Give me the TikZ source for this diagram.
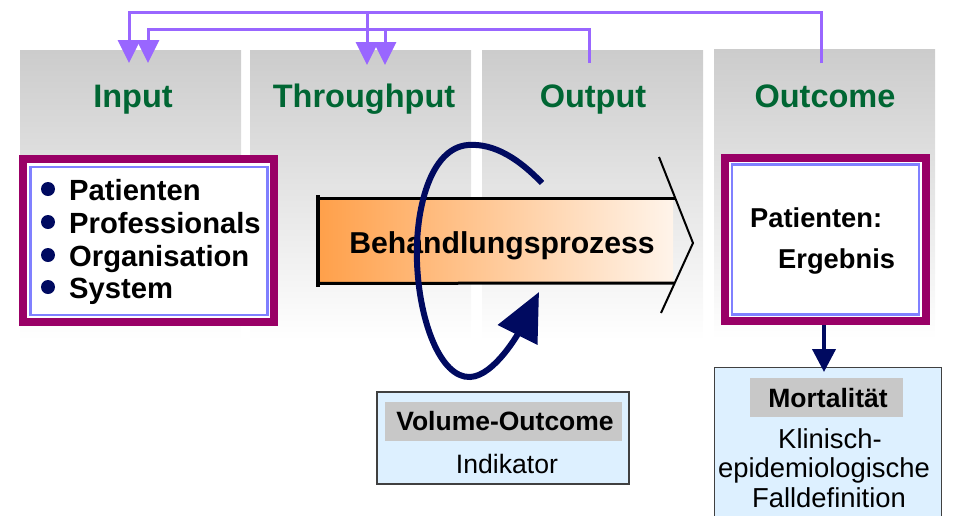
\documentclass[tikz,border=0pt]{standalone}
\usepackage{fontspec}
\setmainfont{Liberation Sans}
\usetikzlibrary{arrows.meta}
\definecolor{hdgreen}{HTML}{006633}
\definecolor{fbpurple}{HTML}{9966FF}
\definecolor{framemag}{HTML}{990066}
\definecolor{innerblue}{HTML}{8080FF}
\definecolor{loopnavy}{HTML}{000A60}
\definecolor{paleblue}{HTML}{DDF0FF}
\definecolor{lblgray}{HTML}{C8C8C8}
\definecolor{procorange}{HTML}{FFA04A}
\definecolor{procpale}{HTML}{FFF4EA}
\begin{document}
\begin{tikzpicture}[x=1pt,y=-1pt,
  panel/.style={rectangle, inner sep=0pt, anchor=north west, minimum width=221pt,
    minimum height=290pt, top color=black!20, bottom color=white, draw=none},
  header/.style={anchor=base, text=hdgreen, inner sep=0pt,
    font=\fontsize{32.5}{36}\selectfont\bfseries},
  fb/.style={draw=fbpurple, line width=3pt, -{Triangle[length=23pt,width=22pt]}},
  outerframe/.style={rectangle, inner sep=0pt, draw=framemag, line width=8pt, fill=white},
  innerframe/.style={rectangle, inner sep=0pt, draw=innerblue, line width=2.5pt},
  bullet/.style={circle, fill=loopnavy, inner sep=0pt, minimum size=14pt},
  item/.style={anchor=base west, inner sep=0pt, font=\fontsize{29.2}{32}\selectfont\bfseries},
  infobox/.style={rectangle, inner sep=0pt, fill=paleblue, draw=black!75, line width=1.2pt},
  lblbox/.style={rectangle, inner sep=0pt, fill=lblgray},
  boldtxt/.style={anchor=base, inner sep=0pt, font=\fontsize{26.5}{30}\selectfont\bfseries},
  plaintxt/.style={anchor=base, inner sep=0pt, font=\fontsize{27.4}{30}\selectfont},
  octxt/.style={anchor=base west, inner sep=0pt, font=\fontsize{27.3}{30}\selectfont\bfseries},
]
\path[use as bounding box] (0,0) rectangle (953,515);
\clip (0,0) rectangle (953,515);

% column panels
\node[panel] (pin)  at (20,50)  {};
\node[panel] (pthr) at (250,50) {};
\node[panel] (pout) at (482,50) {};
\node[panel] (poc)  at (714,49) {};

% column headings
\node[header] (hin)  at (133,107) {Input};
\node[header] (hthr) at (364,107) {Throughput};
\node[header] (hout) at (593,107) {Output};
\node[header] (hoc)  at (825,107) {Outcome};

% feedback connectors
\coordinate (fbOc)  at (821,63);
\coordinate (fbOut) at (589,63);
\coordinate (fbIn1) at (129,63);
\coordinate (fbIn2) at (148,63);
\coordinate (fbTh1) at (367,65);
\coordinate (fbTh2) at (385,65);
\coordinate (top1)  at (129,12);
\coordinate (top2)  at (148,29);
\coordinate (jn1)   at (367,12);
\coordinate (jn2)   at (385,29);
\draw[fb] (fbOc) |- (top1) -- (fbIn1);
\draw[fb] (jn1) -- (fbTh1);
\draw[fb] (fbOut) |- (top2) -- (fbIn2);
\draw[fb] (jn2) -- (fbTh2);

% input box
\node[outerframe, minimum width=251pt, minimum height=163pt] (inbox) at (148.5,240.5) {};
\node[innerframe, minimum width=237pt, minimum height=148pt] (ininner) at (149,241) {};
\node[bullet] (b1) at (48,189) {};
\node[bullet] (b2) at (48,222) {};
\node[bullet] (b3) at (48,255) {};
\node[bullet] (b4) at (48,287) {};
\node[item] (t1) at (69,200) {Patienten};
\node[item] (t2) at (69,233) {Professionals};
\node[item] (t3) at (69,266) {Organisation};
\node[item] (t4) at (69,298) {System};

% treatment process arrow
\node[rectangle, inner sep=0pt, anchor=north west, minimum width=355pt, minimum height=85pt,
  left color=procorange, right color=procpale, draw=none] (proc) at (318,198) {};
\coordinate (cv1) at (659,157);
\coordinate (cv2) at (693,243);
\coordinate (cv3) at (661,313);
\coordinate (pt) at (675,198);
\coordinate (pb) at (674,283);
\draw[line width=3pt] (proc.north west) -- (pt);
\draw[line width=3pt] (proc.south west) -- (pb);
\draw[line width=3.5pt] ([yshift=3pt]proc.north west) -- ([yshift=-4pt]proc.south west);
\draw[line width=2pt] (cv1) -- (cv2) -- (cv3);
\node[anchor=base, inner sep=0pt, font=\fontsize{30.2}{34}\selectfont\bfseries] (ptxt) at (502,253) {Behandlungsprozess};

% volume-outcome loop
\coordinate (lp0) at (542,183);
\coordinate (lp1) at (468,145);
\coordinate (lp2) at (417,262);
\coordinate (lp3) at (470,377);
\coordinate (lp4) at (539,292);
\draw[loopnavy, line width=6pt, -{Triangle[length=48pt,width=43pt]}]
  (lp0) .. controls (520,160) and (495,143) .. (lp1)
        .. controls (430,148) and (415,210) .. (lp2)
        .. controls (419,320) and (440,378) .. (lp3)
        .. controls (495,376) and (520,330) .. (lp4);

% volume-outcome indicator box
\node[infobox, minimum width=252pt, minimum height=92pt] (vol) at (503,438) {};
\node[lblbox, minimum width=237pt, minimum height=39pt] (vollbl) at (503.5,421.5) {};
\node[boldtxt] (voltxt) at (505,430) {Volume-Outcome};
\node[plaintxt, font=\fontsize{26.6}{30}\selectfont] (indtxt) at (507,473) {Indikator};

% outcome box
\node[outerframe, minimum width=201pt, minimum height=163pt] (ocbox) at (825.5,239.5) {};
\node[innerframe, minimum width=187pt, minimum height=150pt] (ocinner) at (825.5,239.5) {};
\node[octxt] (oc1) at (750,227) {Patienten:};
\node[octxt] (oc2) at (778,268) {Ergebnis};

% mortality box
\node[infobox, anchor=north west, minimum width=227pt, minimum height=170pt] (mort) at (714,367) {};
\node[lblbox, minimum width=153pt, minimum height=39pt] (mortlbl) at (826.5,397.5) {};
\node[boldtxt] (morttxt) at (828,407) {Mortalität};
\node[plaintxt] (m1) at (830,448) {Klinisch-};
\node[plaintxt] (m2) at (824,477) {epidemiologische};
\node[plaintxt] (m3) at (829,507) {Falldefinition};

% outcome to mortality
\draw[loopnavy, line width=4pt, -{Triangle[length=23pt,width=23pt]}, shorten >=-5pt]
  (ocbox.south -| 824,0) -- (mort.north -| 824,0);
\end{tikzpicture}
\end{document}
